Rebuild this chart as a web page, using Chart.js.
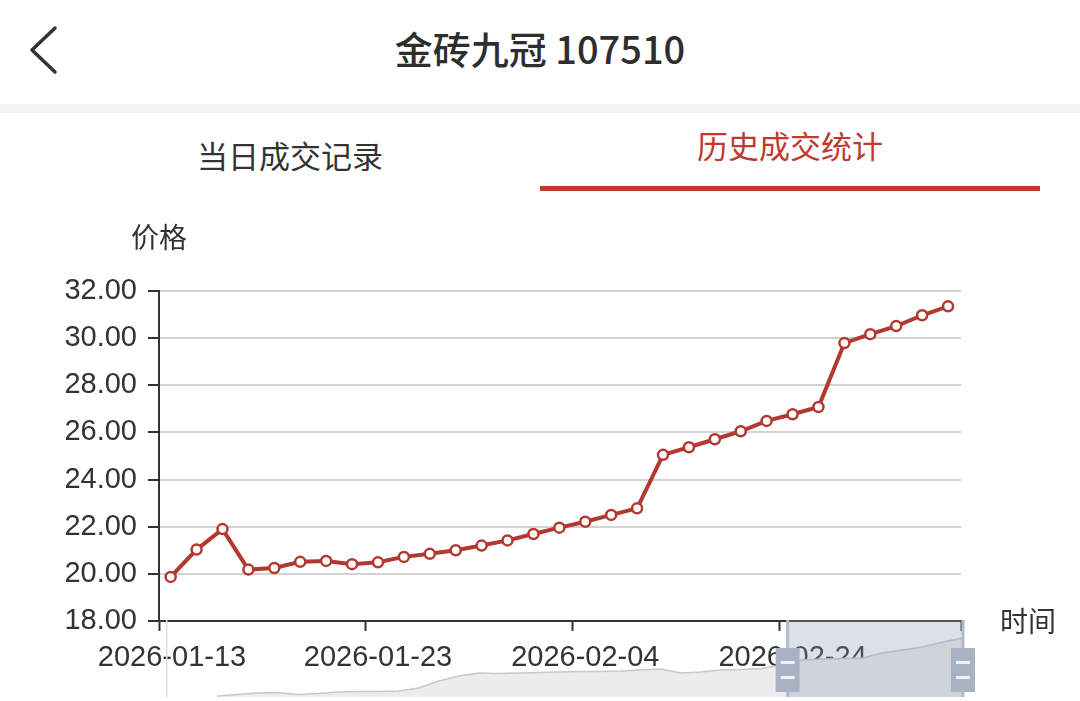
<!DOCTYPE html>
<html lang="zh-CN">
<head>
<meta charset="utf-8">
<title>金砖九冠 107510</title>
<script src="https://cdn.jsdelivr.net/npm/chart.js@4.4.1/dist/chart.umd.min.js"></script>
<style>
  html, body { margin: 0; padding: 0; background: #fff; }
  body {
    width: 1080px; height: 701px; position: relative; overflow: hidden;
    font-family: 'Liberation Sans', 'Noto Sans CJK SC', sans-serif; color: #333;
  }
  .back { position: absolute; left: 24px; top: 24px; }
  .title {
    position: absolute; left: 0; top: 23px; width: 1080px; text-align: center;
    font-family: 'Noto Sans CJK SC', sans-serif;
    font-size: 38px; line-height: 50px; font-weight: 500; color: #2e2e2e;
  }
  .band { position: absolute; left: 0; top: 104px; width: 1080px; height: 9px; background: #f4f4f4; }
  .tab {
    position: absolute; width: 500px; text-align: center; font-size: 31px; line-height: 40px;
    font-family: 'Noto Sans CJK SC', sans-serif;
  }
  #tab1 { left: 40px; top: 135px; color: #333; }
  #tab2 { left: 540px; top: 125px; color: #c0392f; }
  .underline { position: absolute; left: 540px; top: 186px; width: 500px; height: 5px; background: #c0392f; }
  #main { position: absolute; left: 0; top: 200px; }
  #mini { position: absolute; left: 165px; top: 620px; }
</style>
</head>
<body>
<svg class="back" width="40" height="52" viewBox="0 0 40 52">
  <polyline points="31,4 8,26 31,48" fill="none" stroke="#333" stroke-width="3.5" stroke-linecap="round" stroke-linejoin="round"/>
</svg>
<div class="title">金砖九冠 107510</div>
<div class="band"></div>
<div class="tab" id="tab1">当日成交记录</div>
<div class="tab" id="tab2">历史成交统计</div>
<div class="underline"></div>

<canvas id="main" width="1080" height="501"></canvas>
<canvas id="mini" width="820" height="77"></canvas>

<script>
// 交易日
const dates = [
  '2026-01-13', '2026-01-14', '2026-01-15', '2026-01-16', '2026-01-19', '2026-01-20',
  '2026-01-21', '2026-01-22', '2026-01-23', '2026-01-26', '2026-01-27', '2026-01-28',
  '2026-01-29', '2026-01-30', '2026-02-02', '2026-02-03', '2026-02-04', '2026-02-05',
  '2026-02-06', '2026-02-09', '2026-02-10', '2026-02-11', '2026-02-12', '2026-02-13',
  '2026-02-24', '2026-02-25', '2026-02-26', '2026-02-27', '2026-03-02', '2026-03-03',
  '2026-03-04'
];

// 收盘价格
const prices = [
  19.87, 21.03, 21.90, 20.18, 20.25, 20.51, 20.55, 20.41, 20.49, 20.72, 20.85,
  21.00, 21.20, 21.42, 21.69, 21.96, 22.21, 22.50, 22.78, 25.05, 25.37, 25.71,
  26.05, 26.49, 26.77, 27.08, 29.79, 30.17, 30.51, 30.97, 31.35
];

// 缩略轴上的走势 (整个历史区间)
const overview = [
  1, 2.5, 4, 4.5, 2.5, 3.5, 5, 5.5, 5.5, 6, 9, 16, 21, 24, 23.5, 24, 24.5, 25, 25.5,
  25.5, 26, 27, 28, 24, 25, 27, 27.5, 28.5, 32, 37, 38, 38.5, 39, 44, 47, 50, 55, 59
];
const sliderWindow = [28.3, 37];

const yTicks = { min: 18, max: 32, step: 2 };
const labelEvery = 8;
const yName = '价格';
const xName = '时间';

const lineColor = '#b3382f';
const textColor = '#333';
const numFont = "'Liberation Sans', 'Noto Sans CJK SC', sans-serif";
const cjkFont = "'Noto Sans CJK SC', sans-serif";

// 刻度在类目之间, 标签在类目上
const xMin = -0.45;
const xMax = dates.length - 0.5;
const xTickVals = [xMin];
for (let k = labelEvery; k < dates.length; k += labelEvery) xTickVals.push(k - 0.5);
xTickVals.push(xMax);
const xLabels = xTickVals.map((v, i) => (i * labelEvery < dates.length && i < xTickVals.length - 1) ? dates[i * labelEvery] : '');

const axisNames = {
  id: 'axisNames',
  afterDraw(chart) {
    const { ctx, chartArea: a } = chart;
    ctx.save();
    ctx.font = '28px ' + cjkFont;
    ctx.fillStyle = textColor;
    ctx.textBaseline = 'middle';
    ctx.textAlign = 'center';
    ctx.fillText(yName, a.left, a.top - 54);
    ctx.textAlign = 'left';
    ctx.fillText(xName, a.right + 39, a.bottom);
    ctx.restore();
  }
};

new Chart(document.getElementById('main'), {
  type: 'line',
  data: {
    datasets: [{
      data: prices.map((v, i) => ({ x: i, y: v })),
      borderColor: lineColor,
      borderWidth: 4,
      pointRadius: 5,
      pointBorderWidth: 2.5,
      pointBackgroundColor: '#fff',
      pointBorderColor: lineColor,
      tension: 0,
      clip: false
    }]
  },
  options: {
    responsive: false,
    animation: false,
    events: [],
    layout: { padding: { left: 0, right: 119, top: 91, bottom: 0 } },
    plugins: { legend: { display: false }, tooltip: { enabled: false } },
    scales: {
      x: {
        type: 'linear',
        min: xMin,
        max: xMax,
        afterBuildTicks: s => { s.ticks = xTickVals.map(v => ({ value: v })); },
        afterFit: s => { s.height = 80; },
        grid: { drawOnChartArea: false, tickLength: 10, tickColor: textColor, tickWidth: 2 },
        border: { color: textColor, width: 2 },
        ticks: {
          autoSkip: false, maxRotation: 0, padding: 10, labelOffset: 13,
          color: textColor, font: { size: 29, family: numFont },
          callback: (v, i) => xLabels[i]
        }
      },
      y: {
        min: yTicks.min,
        max: yTicks.max,
        afterFit: s => { s.width = 159; },
        grid: { color: '#d2d2d2', lineWidth: 2, tickLength: 11, tickColor: textColor, tickWidth: 2 },
        border: { color: textColor, width: 2 },
        ticks: {
          stepSize: yTicks.step, padding: 11, color: textColor,
          font: { size: 29, family: numFont },
          callback: v => v.toFixed(2)
        }
      }
    }
  },
  plugins: [axisNames]
});

// 数据缩放滑块
const sliderDecor = {
  id: 'sliderDecor',
  afterDraw(chart) {
    const { ctx, chartArea: a } = chart;
    const xs = chart.scales.x;
    const x0 = xs.getPixelForValue(sliderWindow[0]);
    const x1 = xs.getPixelForValue(sliderWindow[1]);
    ctx.save();
    ctx.fillStyle = '#dedede';
    ctx.fillRect(a.left + 1, a.top, 1.5, a.bottom - a.top);
    ctx.fillStyle = 'rgba(140,155,180,0.3)';
    ctx.fillRect(x0, a.top, x1 - x0, a.bottom - a.top);
    [x0, x1].forEach(x => {
      ctx.fillStyle = '#b3bbc8';
      ctx.fillRect(x - 1.5, a.top, 3, a.bottom - a.top);
      ctx.fillStyle = '#a8b2c3';
      ctx.fillRect(x - 12, 28, 24, 44);
      ctx.fillStyle = '#eef1f5';
      ctx.fillRect(x - 7, 41, 14, 3);
      ctx.fillRect(x - 7, 56, 14, 3);
    });
    ctx.restore();
  }
};

new Chart(document.getElementById('mini'), {
  type: 'line',
  data: {
    datasets: [{
      data: overview.map((v, i) => ({ x: i, y: v })),
      borderColor: '#c8c8c8',
      borderWidth: 1.5,
      backgroundColor: '#ececec',
      fill: 'origin',
      pointRadius: 0,
      tension: 0
    }]
  },
  options: {
    responsive: false,
    animation: false,
    events: [],
    layout: { padding: { left: 0, right: 22, top: 0, bottom: 0 } },
    plugins: { legend: { display: false }, tooltip: { enabled: false } },
    scales: {
      x: { type: 'linear', display: false, min: -2.58, max: overview.length - 1 },
      y: { display: false, min: 0, max: 77 }
    }
  },
  plugins: [sliderDecor]
});
</script>
</body>
</html>
